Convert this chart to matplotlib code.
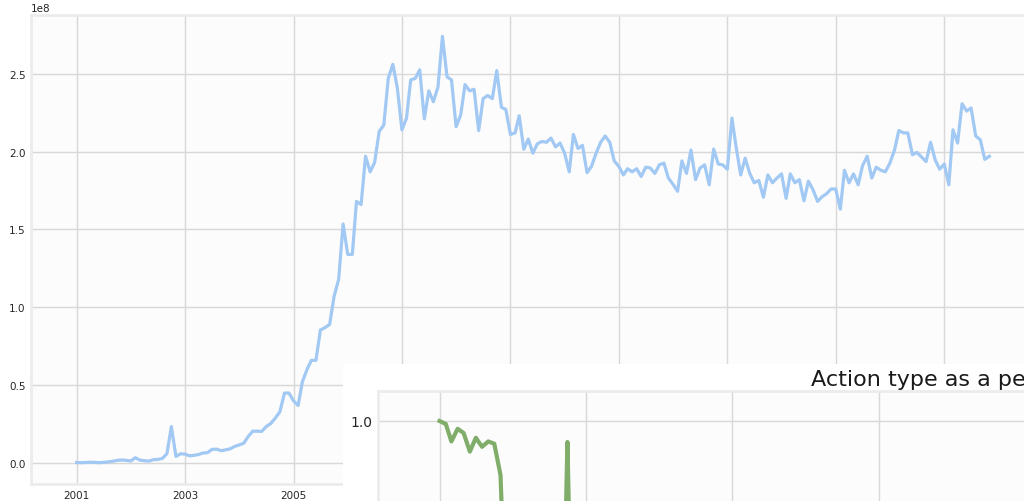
import matplotlib
matplotlib.use("Agg")
import matplotlib.pyplot as plt
import matplotlib.dates as mdates
from matplotlib.patches import Rectangle
import pandas as pd
import datetime

# monthly totals (x 1e8), starting 2001-01
total_actions = [
  0.004, 0.003, 0.004, 0.006, 0.005, 0.003, 0.005, 0.008, 0.012, 0.018,
  0.020, 0.018, 0.014, 0.035, 0.020, 0.016, 0.013, 0.022, 0.024, 0.030,
  0.060, 0.235, 0.043, 0.060, 0.058, 0.047, 0.050, 0.055, 0.065, 0.067,
  0.088, 0.090, 0.080, 0.085, 0.092, 0.107, 0.117, 0.128, 0.170, 0.205,
  0.205, 0.204, 0.235, 0.255, 0.290, 0.330, 0.450, 0.450, 0.400, 0.370,
  0.520, 0.600, 0.660, 0.660, 0.855, 0.870, 0.890, 1.070, 1.180, 1.535,
  1.340, 1.340, 1.680, 1.660, 1.970, 1.870, 1.930, 2.130, 2.170, 2.470,
  2.560, 2.410, 2.140, 2.215, 2.460, 2.470, 2.525, 2.210, 2.390, 2.320,
  2.415, 2.740, 2.480, 2.460, 2.160, 2.235, 2.430, 2.390, 2.400, 2.135,
  2.340, 2.360, 2.340, 2.520, 2.285, 2.270, 2.110, 2.120, 2.230, 2.015,
  2.080, 1.990, 2.050, 2.065, 2.060, 2.087, 2.030, 2.055, 1.990, 1.870,
  2.110, 2.020, 2.040, 1.865, 1.905, 1.990, 2.060, 2.100, 2.060, 1.940,
  1.905, 1.850, 1.890, 1.870, 1.890, 1.840, 1.900, 1.895, 1.860, 1.915,
  1.926, 1.830, 1.790, 1.745, 1.940, 1.860, 2.010, 1.820, 1.894, 1.915,
  1.787, 2.016, 1.920, 1.915, 1.887, 2.215, 2.030, 1.850, 1.958, 1.860,
  1.800, 1.815, 1.707, 1.850, 1.800, 1.830, 1.857, 1.700, 1.857, 1.800,
  1.820, 1.684, 1.810, 1.755, 1.680, 1.710, 1.730, 1.760, 1.760, 1.630,
  1.880, 1.800, 1.857, 1.787, 1.910, 1.970, 1.830, 1.900, 1.880, 1.870,
  1.926, 2.010, 2.135, 2.120, 2.120, 1.980, 1.995, 1.965, 1.936, 2.060,
  1.947, 1.887, 1.920, 1.787, 2.140, 2.055, 2.307, 2.260, 2.280, 2.100,
  2.076, 1.950, 1.970,
]
total_scale = 1e8

# share of one action type, monthly from 2001-01 (only the top of it is on screen)
action_share = [
  1.000, 0.995, 0.966, 0.987, 0.980, 0.949, 0.972, 0.957, 0.966, 0.962,
  0.910, 0.640, 0.520, 0.480, 0.450, 0.470, 0.430, 0.440, 0.460, 0.420,
  0.500, 0.965, 0.480, 0.450, 0.430, 0.410, 0.420, 0.400, 0.390, 0.410,
  0.380, 0.370, 0.390, 0.360, 0.350, 0.370, 0.340, 0.330, 0.350, 0.320,
  0.310, 0.330, 0.300, 0.320, 0.290, 0.300, 0.280, 0.290, 0.300, 0.270,
  0.280, 0.260, 0.270, 0.250, 0.260, 0.240, 0.250, 0.230, 0.240, 0.220,
  0.230, 0.210, 0.220, 0.230, 0.210, 0.200, 0.210, 0.190, 0.200, 0.210,
  0.190, 0.200, 0.180, 0.190, 0.200, 0.180, 0.190, 0.170, 0.180, 0.190,
  0.170, 0.180, 0.190, 0.170, 0.180, 0.160, 0.170, 0.180, 0.160, 0.170,
  0.180, 0.160, 0.170, 0.160, 0.170, 0.160,
]

title_text = "Action type as a percentage of total activity"
grid_years = [2001, 2003, 2005, 2007, 2009, 2011, 2013, 2015, 2017]

months_total = pd.date_range("2001-01-01", periods=len(total_actions), freq="MS")
months_share = pd.date_range("2001-01-01", periods=len(action_share), freq="MS")
year_ticks = [mdates.date2num(datetime.date(y, 1, 1)) for y in grid_years]

grid_col = "#d8d8d8"
edge_col = "#ececec"
face_col = "#fcfcfc"

def style_axes(a, size):
  a.set_facecolor(face_col)
  for s in a.spines.values():
    s.set_color(edge_col)
    s.set_linewidth(2)
  a.grid(True, color=grid_col, linewidth=1)
  a.set_axisbelow(True)
  a.tick_params(length=0, labelsize=size, colors="#262626", pad=4)

fig = plt.figure(figsize=(10.24, 5.02), dpi=100)

ax = fig.add_axes([31/1024, 17/502, 1004/1024, 469/502])
style_axes(ax, 7.5)
ax.plot(months_total, [v*total_scale for v in total_actions], color="#a1c9f4", linewidth=2.3)
ax.xaxis.set_major_locator(plt.FixedLocator(year_ticks))
ax.xaxis.set_major_formatter(mdates.DateFormatter("%Y"))
ax.yaxis.get_offset_text().set_fontsize(7.5)
ax.yaxis.get_offset_text().set_color("#262626")

# white background of the second figure, pasted over the first one
fig.patches.append(Rectangle((343/1024, 0), 1 - 343/1024, (502-365)/502,
  transform=fig.transFigure, facecolor="white", edgecolor="none", zorder=1))

ins = fig.add_axes([378/1024, (502-392-660)/502, 1355/1024, 660/502], zorder=2)
style_axes(ins, 10)
ins.plot(months_share, action_share, color="#80ad69", linewidth=3)
ins.set_xlim(ax.get_xlim())
ins.set_ylim(-0.05, 1.05)
ins.xaxis.set_major_locator(plt.FixedLocator(year_ticks))
ins.tick_params(axis="x", labelbottom=False)
ins.set_yticks([0.0, 0.2, 0.4, 0.6, 0.8, 1.0])
ins.set_title(title_text, fontsize=16, pad=4, color="#1a1a1a")

fig.savefig("out.png", dpi=100)
